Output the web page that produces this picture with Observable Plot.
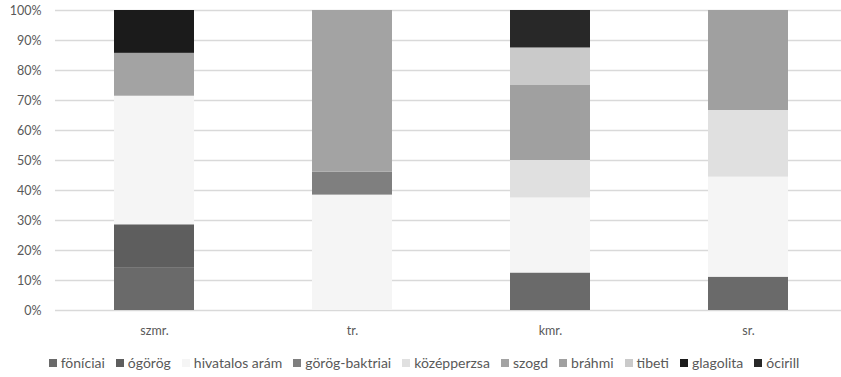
<!DOCTYPE html>
<html><head><meta charset="utf-8">
<script src="https://cdn.jsdelivr.net/npm/d3@7"></script>
<script src="https://cdn.jsdelivr.net/npm/@observablehq/plot@0.6"></script>
<style>
body{margin:0;background:#fff;font-family:Lato,"Open Sans",sans-serif;}
#legend{margin-top:6px;padding-left:18px;}
#legend > div{justify-content:center !important;font-size:14px !important;color:#595959 !important;font-family:Lato,"Open Sans",sans-serif !important;}
.lg-swatch{margin-right:11px !important;}
.lg-swatch svg{margin-right:4px !important;}
</style></head><body><div id="chart"></div><div id="legend"></div><script>
const categories = ["szmr.", "tr.", "kmr.", "sr."];
const seriesNames = ["föníciai", "ógörög", "hivatalos arám", "görög-baktriai", "középperzsa", "szogd", "bráhmi", "tibeti", "glagolita", "ócirill"];
const seriesColors = ["#6a6a6a", "#5e5e5e", "#f5f5f5", "#7f7f7f", "#e0e0e0", "#a3a3a3", "#a0a0a0", "#cacaca", "#1b1b1b", "#282828"];
const foniciai      = [1, 0, 1, 1];
const ogorog        = [1, 0, 0, 0];
const hivatalosAram = [3, 5, 2, 3];
const gorogBaktriai = [0, 1, 0, 0];
const kozepperzsa   = [0, 0, 1, 2];
const szogd         = [1, 7, 0, 0];
const brahmi        = [0, 0, 2, 3];
const tibeti        = [0, 0, 1, 0];
const glagolita     = [1, 0, 0, 0];
const ocirill       = [0, 0, 1, 0];
const yTicks = [0, 0.1, 0.2, 0.3, 0.4, 0.5, 0.6, 0.7, 0.8, 0.9, 1];

const seriesValues = [foniciai, ogorog, hivatalosAram, gorogBaktriai, kozepperzsa, szogd, brahmi, tibeti, glagolita, ocirill];
const data = [];
seriesNames.forEach((s, i) => categories.forEach((c, j) => {
  data.push({series: s, cat: c, value: seriesValues[i][j]});
}));
const pct = d => Math.round(d * 100) + "%";

const chart = Plot.plot({
  width: 841, height: 340,
  marginLeft: 55, marginRight: 0, marginTop: 10, marginBottom: 30,
  style: {fontFamily: "Lato, 'Open Sans', sans-serif", fontSize: "12.5px", color: "#595959", background: "white"},
  x: {type: "band", domain: categories, range: [55, 847], paddingInner: 0.596, paddingOuter: 0.298, label: null},
  y: {domain: [0, 1], label: null},
  color: {domain: seriesNames, range: seriesColors},
  marks: [
    Plot.ruleY(yTicks, {stroke: "#d9d9d9", strokeWidth: 1.3}),
    Plot.barY(data, {x: "cat", y: "value", fill: "series", offset: "normalize", order: seriesNames}),
    Plot.axisX({tickSize: 0, tickPadding: 16, fontSize: 12.5, label: null}),
    Plot.axisY({ticks: yTicks, tickSize: 0, tickPadding: 14, tickFormat: pct, fontSize: 12.5, label: null})
  ]
});
document.getElementById("chart").append(chart);
const legend = Plot.legend({color: {domain: seriesNames, range: seriesColors}, className: "lg", swatchSize: 8});
document.getElementById("legend").append(legend);
</script></body></html>
